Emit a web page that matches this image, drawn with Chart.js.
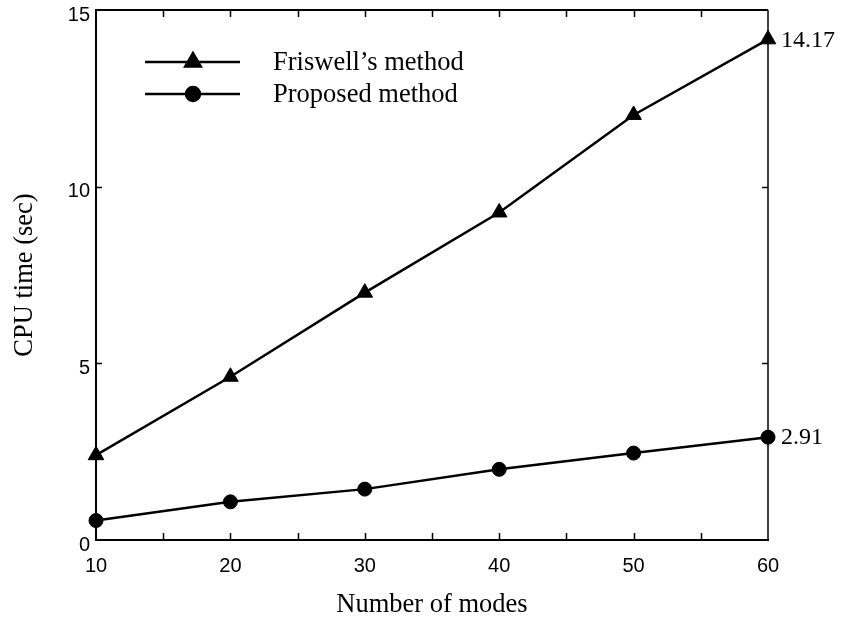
<!DOCTYPE html>
<html>
<head>
<meta charset="utf-8">
<title>CPU time vs number of modes</title>
<script src="https://cdn.jsdelivr.net/npm/chart.js@4.4.1/dist/chart.umd.min.js"></script>
<style>
  html, body { margin: 0; padding: 0; background: #ffffff; }
  #cpuChart { display: block; }
</style>
</head>
<body>
<canvas id="cpuChart" width="846" height="626"></canvas>
<script>
// Chart data
const modes = [10, 20, 30, 40, 50, 60];
const friswellTimes = [2.4, 4.62, 7.0, 9.27, 12.03, 14.17];
const proposedTimes = [0.55, 1.08, 1.44, 2.0, 2.46, 2.91];
const seriesNames = ["Friswell\u2019s method", "Proposed method"];
const xMinorStep = 5;
const yTickValues = [0, 5, 10, 15];

const SERIF = "'Liberation Serif', 'Times New Roman', serif";
const SANS = "'Liberation Sans', Arial, sans-serif";

// Frame pieces the library does not draw: top/right border, inward ticks,
// the in-plot legend and the end-value labels
const framePlugin = {
  id: "frame",
  afterDraw(chart) {
    const ctx = chart.ctx;
    const area = chart.chartArea;
    const xScale = chart.scales.x;
    const yScale = chart.scales.y;
    ctx.save();
    ctx.strokeStyle = "#000";

    // top and right border
    ctx.lineWidth = 2;
    ctx.beginPath();
    ctx.moveTo(area.left, area.top);
    ctx.lineTo(area.right, area.top);
    ctx.stroke();
    ctx.lineWidth = 1.5;
    ctx.beginPath();
    ctx.moveTo(area.right, area.top);
    ctx.lineTo(area.right, area.bottom);
    ctx.stroke();

    // x ticks every 5 modes, pointing inward on top and bottom
    ctx.lineWidth = 1.5;
    for (let v = xScale.min + xMinorStep; v < xScale.max; v += xMinorStep) {
      const px = Math.round(xScale.getPixelForValue(v)) + 0.5;
      ctx.beginPath();
      ctx.moveTo(px, area.bottom);
      ctx.lineTo(px, area.bottom - 7);
      ctx.moveTo(px, area.top);
      ctx.lineTo(px, area.top + 7);
      ctx.stroke();
    }

    // y ticks on both sides, pointing inward
    yTickValues.slice(1, -1).forEach((v) => {
      const py = Math.round(yScale.getPixelForValue(v)) + 0.5;
      ctx.beginPath();
      ctx.moveTo(area.left, py);
      ctx.lineTo(area.left + 6, py);
      ctx.moveTo(area.right, py);
      ctx.lineTo(area.right - 6, py);
      ctx.stroke();
    });

    // legend in the upper left of the plot
    chart.data.datasets.forEach((ds, i) => {
      const rowY = area.top + 52 + i * 32;
      const lineStart = area.left + 49;
      const lineEnd = area.left + 144;
      ctx.lineWidth = 2.5;
      ctx.beginPath();
      ctx.moveTo(lineStart, rowY);
      ctx.lineTo(lineEnd, rowY);
      ctx.stroke();
      Chart.helpers.drawPoint(
        ctx,
        {
          pointStyle: ds.pointStyle,
          radius: ds.pointRadius,
          rotation: 0,
          borderWidth: 1,
        },
        area.left + 97,
        rowY
      );
      ctx.fillStyle = "#000";
      ctx.font = "26.5px " + SERIF;
      ctx.textAlign = "left";
      ctx.textBaseline = "middle";
      ctx.fillText(ds.label, area.left + 177, rowY + 1);
    });

    // value labels next to the last points
    chart.data.datasets.forEach((ds, i) => {
      const meta = chart.getDatasetMeta(i);
      const last = meta.data[meta.data.length - 1];
      const value = ds.data[ds.data.length - 1];
      ctx.fillStyle = "#000";
      ctx.font = "24px " + SERIF;
      ctx.textAlign = "left";
      ctx.textBaseline = "middle";
      ctx.fillText(value.toFixed(2), last.x + 13, last.y + 1);
    });

    ctx.restore();
  },
};

const ctx = document.getElementById("cpuChart").getContext("2d");

new Chart(ctx, {
  type: "line",
  data: {
    labels: modes,
    datasets: [
      {
        label: seriesNames[0],
        data: friswellTimes,
        borderColor: "#000",
        backgroundColor: "#000",
        borderWidth: 2.5,
        pointStyle: "triangle",
        pointRadius: 9,
        pointBackgroundColor: "#000",
        pointBorderColor: "#000",
        pointBorderWidth: 1,
        tension: 0,
        clip: false,
      },
      {
        label: seriesNames[1],
        data: proposedTimes,
        borderColor: "#000",
        backgroundColor: "#000",
        borderWidth: 2.5,
        pointStyle: "circle",
        pointRadius: 7,
        pointBackgroundColor: "#000",
        pointBorderColor: "#000",
        pointBorderWidth: 1,
        tension: 0,
        clip: false,
      },
    ],
  },
  options: {
    responsive: false,
    animation: false,
    devicePixelRatio: 1,
    layout: {
      padding: { left: 0, right: 78, top: 10, bottom: 0 },
    },
    plugins: {
      legend: { display: false },
      tooltip: { enabled: false },
    },
    scales: {
      x: {
        type: "linear",
        min: 10,
        max: 60,
        grid: { display: false, drawTicks: false },
        border: { display: true, color: "#000", width: 2 },
        ticks: {
          stepSize: 10,
          color: "#000",
          padding: 14,
          maxRotation: 0,
          font: { family: SANS, size: 20 },
        },
        title: {
          display: true,
          text: "Number of modes",
          color: "#000",
          padding: { top: 0, bottom: 5 },
          font: { family: SERIF, size: 26.5 },
        },
        afterFit(scale) {
          scale.height = 86;
          scale.paddingLeft = 0;
          scale.paddingRight = 0;
        },
      },
      y: {
        min: 0,
        max: 15,
        grid: { display: false, drawTicks: false },
        border: { display: true, color: "#000", width: 2 },
        afterBuildTicks(scale) {
          scale.ticks = yTickValues.map((v) => ({ value: v }));
        },
        ticks: {
          color: "#000",
          padding: 6,
          labelOffset: 5,
          font: { family: SANS, size: 20 },
        },
        title: {
          display: true,
          text: "CPU time (sec)",
          color: "#000",
          padding: { top: 9, bottom: 0 },
          font: { family: SERIF, size: 26.5 },
        },
        afterFit(scale) {
          scale.width = 96;
          // labels at the ends may hang over the plot edge; do not shrink the plot for them
          scale.paddingTop = 0;
          scale.paddingBottom = 0;
        },
      },
    },
  },
  plugins: [framePlugin],
});
</script>
</body>
</html>
